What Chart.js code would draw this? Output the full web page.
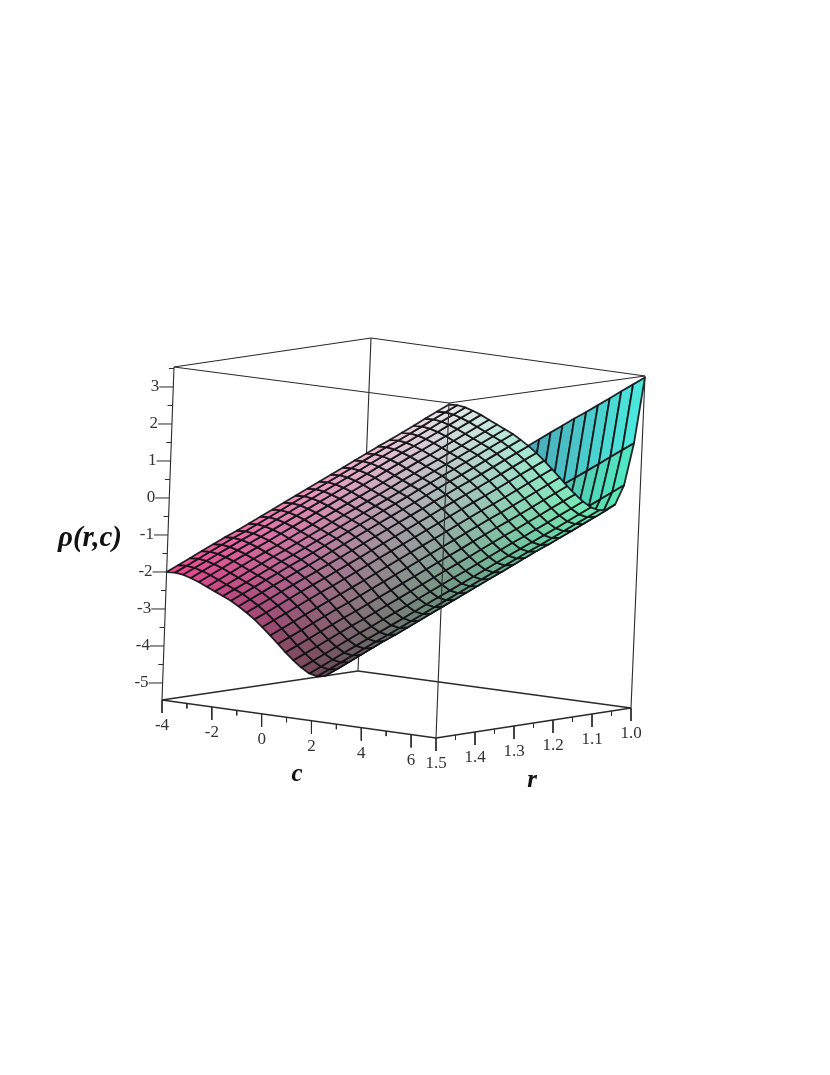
<!DOCTYPE html>
<html>
<head>
<meta charset="utf-8">
<title>rho(r,c)</title>
<script src="https://cdn.jsdelivr.net/npm/chart.js@4/dist/chart.umd.min.js"></script>
<style>
  html, body { margin:0; padding:0; background:#fff; }
  canvas { display:block; }
</style>
</head>
<body>
<canvas id="surf" width="830" height="1075"></canvas>
<script>
// DATA
const cValues = [-4,-3.54,-3.08,-2.63,-2.17,-1.71,-1.25,-0.79,-0.33,0.13,0.58,1.04,1.5,1.96,2.42,2.88,3.33,3.79,4.25,4.71,5.17,5.63,6.08,6.54,7];
const rValues = [1,1.021,1.042,1.063,1.083,1.104,1.125,1.146,1.167,1.188,1.208,1.229,1.25,1.271,1.292,1.313,1.333,1.354,1.375,1.396,1.417,1.438,1.458,1.479,1.5];
// one row per r value, one column per c value
const rhoRows = [
[-2.00,-1.77,-1.54,-1.31,-1.08,-0.85,-0.63,-0.40,-0.17,0.06,0.29,0.52,0.75,0.98,1.21,1.44,1.67,1.90,2.13,2.35,2.58,2.81,3.04,3.27,3.50],
[-3.75,-3.52,-3.29,-3.06,-2.83,-2.60,-2.38,-2.15,-1.92,-1.69,-1.46,-1.23,-1.00,-0.77,-0.54,-0.31,-0.08,0.15,0.38,0.60,0.83,1.06,1.29,1.52,1.75],
[-4.86,-4.63,-4.40,-4.17,-3.94,-3.71,-3.49,-3.26,-3.03,-2.80,-2.57,-2.34,-2.11,-1.88,-1.65,-1.42,-1.19,-0.96,-0.73,-0.51,-0.28,-0.05,0.18,0.41,0.64],
[-5.35,-5.12,-4.89,-4.66,-4.43,-4.20,-3.98,-3.75,-3.52,-3.29,-3.06,-2.83,-2.60,-2.37,-2.14,-1.91,-1.68,-1.45,-1.22,-1.00,-0.77,-0.54,-0.31,-0.08,0.15],
[-5.46,-5.23,-5.00,-4.77,-4.54,-4.31,-4.09,-3.86,-3.63,-3.40,-3.17,-2.94,-2.71,-2.48,-2.25,-2.02,-1.79,-1.56,-1.33,-1.11,-0.88,-0.65,-0.42,-0.19,0.04],
[-5.44,-5.21,-4.98,-4.75,-4.52,-4.29,-4.07,-3.84,-3.61,-3.38,-3.15,-2.92,-2.69,-2.46,-2.23,-2.00,-1.77,-1.54,-1.31,-1.09,-0.86,-0.63,-0.40,-0.17,0.06],
[-5.33,-5.10,-4.87,-4.64,-4.41,-4.18,-3.96,-3.73,-3.50,-3.27,-3.04,-2.81,-2.58,-2.35,-2.12,-1.89,-1.66,-1.43,-1.20,-0.98,-0.75,-0.52,-0.29,-0.06,0.17],
[-5.14,-4.91,-4.68,-4.45,-4.22,-3.99,-3.77,-3.54,-3.31,-3.08,-2.85,-2.62,-2.39,-2.16,-1.93,-1.70,-1.47,-1.24,-1.01,-0.79,-0.56,-0.33,-0.10,0.13,0.36],
[-4.91,-4.68,-4.45,-4.22,-3.99,-3.76,-3.54,-3.31,-3.08,-2.85,-2.62,-2.39,-2.16,-1.93,-1.70,-1.47,-1.24,-1.01,-0.78,-0.56,-0.33,-0.10,0.13,0.36,0.59],
[-4.66,-4.43,-4.20,-3.97,-3.74,-3.51,-3.29,-3.06,-2.83,-2.60,-2.37,-2.14,-1.91,-1.68,-1.45,-1.22,-0.99,-0.76,-0.53,-0.31,-0.08,0.15,0.38,0.61,0.84],
[-4.40,-4.17,-3.94,-3.71,-3.48,-3.25,-3.03,-2.80,-2.57,-2.34,-2.11,-1.88,-1.65,-1.42,-1.19,-0.96,-0.73,-0.50,-0.27,-0.05,0.18,0.41,0.64,0.87,1.10],
[-4.14,-3.91,-3.68,-3.45,-3.22,-2.99,-2.77,-2.54,-2.31,-2.08,-1.85,-1.62,-1.39,-1.16,-0.93,-0.70,-0.47,-0.24,-0.01,0.21,0.44,0.67,0.90,1.13,1.36],
[-3.88,-3.65,-3.42,-3.19,-2.96,-2.73,-2.51,-2.28,-2.05,-1.82,-1.59,-1.36,-1.13,-0.90,-0.67,-0.44,-0.21,0.02,0.25,0.47,0.70,0.93,1.16,1.39,1.62],
[-3.64,-3.41,-3.18,-2.95,-2.72,-2.49,-2.27,-2.04,-1.81,-1.58,-1.35,-1.12,-0.89,-0.66,-0.43,-0.20,0.03,0.26,0.49,0.71,0.94,1.17,1.40,1.63,1.86],
[-3.42,-3.19,-2.96,-2.73,-2.50,-2.27,-2.05,-1.82,-1.59,-1.36,-1.13,-0.90,-0.67,-0.44,-0.21,0.02,0.25,0.48,0.71,0.93,1.16,1.39,1.62,1.85,2.08],
[-3.22,-2.99,-2.76,-2.53,-2.30,-2.07,-1.85,-1.62,-1.39,-1.16,-0.93,-0.70,-0.47,-0.24,-0.01,0.22,0.45,0.68,0.91,1.13,1.36,1.59,1.82,2.05,2.28],
[-3.04,-2.81,-2.58,-2.35,-2.12,-1.89,-1.67,-1.44,-1.21,-0.98,-0.75,-0.52,-0.29,-0.06,0.17,0.40,0.63,0.86,1.09,1.31,1.54,1.77,2.00,2.23,2.46],
[-2.88,-2.65,-2.42,-2.19,-1.96,-1.73,-1.51,-1.28,-1.05,-0.82,-0.59,-0.36,-0.13,0.10,0.33,0.56,0.79,1.02,1.25,1.47,1.70,1.93,2.16,2.39,2.62],
[-2.72,-2.49,-2.26,-2.03,-1.80,-1.57,-1.35,-1.12,-0.89,-0.66,-0.43,-0.20,0.03,0.26,0.49,0.72,0.95,1.18,1.41,1.63,1.86,2.09,2.32,2.55,2.78],
[-2.56,-2.33,-2.10,-1.87,-1.64,-1.41,-1.19,-0.96,-0.73,-0.50,-0.27,-0.04,0.19,0.42,0.65,0.88,1.11,1.34,1.57,1.79,2.02,2.25,2.48,2.71,2.94],
[-2.40,-2.17,-1.94,-1.71,-1.48,-1.25,-1.03,-0.80,-0.57,-0.34,-0.11,0.12,0.35,0.58,0.81,1.04,1.27,1.50,1.73,1.95,2.18,2.41,2.64,2.87,3.10],
[-2.26,-2.03,-1.80,-1.57,-1.34,-1.11,-0.89,-0.66,-0.43,-0.20,0.03,0.26,0.49,0.72,0.95,1.18,1.41,1.64,1.87,2.09,2.32,2.55,2.78,3.01,3.24],
[-2.14,-1.91,-1.68,-1.45,-1.22,-0.99,-0.77,-0.54,-0.31,-0.08,0.15,0.38,0.61,0.84,1.07,1.30,1.53,1.76,1.99,2.21,2.44,2.67,2.90,3.13,3.36],
[-2.05,-1.82,-1.59,-1.36,-1.13,-0.90,-0.68,-0.45,-0.22,0.01,0.24,0.47,0.70,0.93,1.16,1.39,1.62,1.85,2.08,2.30,2.53,2.76,2.99,3.22,3.45],
[-2.00,-1.77,-1.54,-1.31,-1.08,-0.85,-0.63,-0.40,-0.17,0.06,0.29,0.52,0.75,0.98,1.21,1.44,1.67,1.90,2.13,2.35,2.58,2.81,3.04,3.27,3.50]
];
// ticks
const cTicks = [-4,-2,0,2,4,6];
const cMinor = [-3,-1,1,3,5];
const rTicks = [1.5,1.4,1.3,1.2,1.1,1.0];
const rMinor = [1.45,1.35,1.25,1.15,1.05];
const zTicks = [3,2,1,0,-1,-2,-3,-4,-5];
const zMinor = [3.5,2.5,1.5,0.5,-0.5,-1.5,-2.5,-3.5,-4.5];

// axis box
const cMin = -4, cMax = 7, rMin = 1, rMax = 1.5, zMin = -5.46, zMax = 3.54;
// where the box corners land on the page
const corners = {
  bottom: { a:[162,700], b:[436,738], c:[631,708], d:[358,671] },
  top:    { a:[174,367], b:[449,403], c:[645,376], d:[371,338] }
};

function lerp(p, q, t){ return [p[0]+(q[0]-p[0])*t, p[1]+(q[1]-p[1])*t]; }
function face(f, c, r){
  const s = (c-cMin)/(cMax-cMin), u = (rMax-r)/(rMax-rMin);
  return lerp(lerp(f.a, f.b, s), lerp(f.d, f.c, s), u);
}
function project(c, r, z){
  const t = (z-zMin)/(zMax-zMin);
  const p = lerp(face(corners.bottom, c, r), face(corners.top, c, r), t);
  return {x:p[0], y:p[1]};
}

function lineSet(pts, color, width){
  return {data:pts, showLine:true, pointRadius:0, borderColor:color, borderWidth:width, fill:false};
}
function edge(c1,r1,z1,c2,r2,z2,width){
  return lineSet([project(c1,r1,z1), project(c2,r2,z2)], '#2a2a2a', width||1.1);
}
function shade(c, r, z){
  const R = 0.28 + 0.66*(r-rMin)/(rMax-rMin);
  const G = 0.28 + 0.64*(c-cMin)/(cMax-cMin);
  const B = 0.33 + 0.6*(z-zMin)/(zMax-zMin);
  return `rgb(${Math.round(R*255)},${Math.round(G*255)},${Math.round(B*255)})`;
}

// Chart.js paints the last dataset first, so nearest things go first in the list
const frontSets = [
  edge(cMax,rMax,zMin,cMax,rMax,zMax),
  edge(cMin,rMax,zMax,cMax,rMax,zMax),
  edge(cMax,rMax,zMax,cMax,rMin,zMax),
  edge(cMin,rMax,zMin,cMin,rMax,zMax),
  edge(cMax,rMin,zMin,cMax,rMin,zMax),
  edge(cMin,rMax,zMin,cMax,rMax,zMin,1.3),
  edge(cMax,rMax,zMin,cMax,rMin,zMin,1.3)
];

// tick marks
function tick(p, dx, dy){ return lineSet([p, {x:p.x+dx, y:p.y+dy}], '#2a2a2a', 1); }
cTicks.forEach(v=>frontSets.push(tick(project(v,rMax,zMin),0,13)));
cMinor.forEach(v=>frontSets.push(tick(project(v,rMax,zMin),0,5)));
rTicks.forEach(v=>frontSets.push(tick(project(cMax,v,zMin),0,13)));
rMinor.forEach(v=>frontSets.push(tick(project(cMax,v,zMin),0,5)));
zTicks.forEach(v=>frontSets.push(tick(project(cMin,rMax,v),-14,0)));
zMinor.forEach(v=>frontSets.push(tick(project(cMin,rMax,v),-5,0)));

// surface quads, near corner (c max, r max) first
const surfaceSets = [];
for(let i=rValues.length-2;i>=0;i--){
  for(let j=cValues.length-2;j>=0;j--){
    const z00=rhoRows[i][j], z01=rhoRows[i][j+1], z11=rhoRows[i+1][j+1], z10=rhoRows[i+1][j];
    const p0=project(cValues[j],rValues[i],z00);
    const p1=project(cValues[j+1],rValues[i],z01);
    const p2=project(cValues[j+1],rValues[i+1],z11);
    const p3=project(cValues[j],rValues[i+1],z10);
    surfaceSets.push({
      data:[p0,p1,p2,p3,p0],
      showLine:true,
      pointRadius:0,
      fill:'shape',
      backgroundColor:shade((cValues[j]+cValues[j+1])/2,(rValues[i]+rValues[i+1])/2,(z00+z01+z11+z10)/4),
      borderColor:'rgba(15,15,20,0.9)',
      borderWidth:1.8,
      borderJoinStyle:'round'
    });
  }
}

const backSets = [
  edge(cMin,rMin,zMin,cMin,rMin,zMax),
  edge(cMin,rMax,zMax,cMin,rMin,zMax),
  edge(cMin,rMin,zMax,cMax,rMin,zMax),
  edge(cMin,rMax,zMin,cMin,rMin,zMin,1.3),
  edge(cMin,rMin,zMin,cMax,rMin,zMin,1.3)
];

// tick labels and axis titles
const textPlugin = {
  id:'boxText',
  afterDraw(chart){
    const ctx = chart.ctx, sx = chart.scales.x, sy = chart.scales.y;
    function put(p, txt, dx, dy, align){
      ctx.textAlign = align||'center';
      ctx.fillText(txt, sx.getPixelForValue(p.x)+dx, sy.getPixelForValue(p.y)+dy);
    }
    ctx.save();
    ctx.textBaseline = 'middle';
    ctx.fillStyle = '#333';
    ctx.font = '17px "Liberation Serif"';
    cTicks.forEach(v=>put(project(v,rMax,zMin), String(v), 0, 26));
    rTicks.forEach(v=>put(project(cMax,v,zMin), v.toFixed(1), 0, 26));
    zTicks.forEach(v=>put(project(cMin,rMax,v), String(v), -14, 0, 'right'));
    ctx.fillStyle = '#111';
    ctx.font = 'italic bold 29px "Liberation Serif"';
    ctx.textAlign = 'center';
    ctx.fillText('ρ(r,c)', 90, 539);
    ctx.font = 'italic bold 25px "Liberation Serif"';
    ctx.fillText('c', 297, 775);
    ctx.fillText('r', 532, 781);
    ctx.restore();
  }
};

new Chart(document.getElementById('surf'), {
  type:'scatter',
  data:{datasets:[...frontSets, ...surfaceSets, ...backSets]},
  plugins:[textPlugin],
  options:{
    responsive:false,
    animation:false,
    events:[],
    layout:{padding:0},
    plugins:{legend:{display:false}, tooltip:{enabled:false}},
    scales:{
      x:{type:'linear', min:0, max:830, display:false},
      y:{type:'linear', min:0, max:1075, reverse:true, display:false}
    }
  }
});
</script>
</body>
</html>
